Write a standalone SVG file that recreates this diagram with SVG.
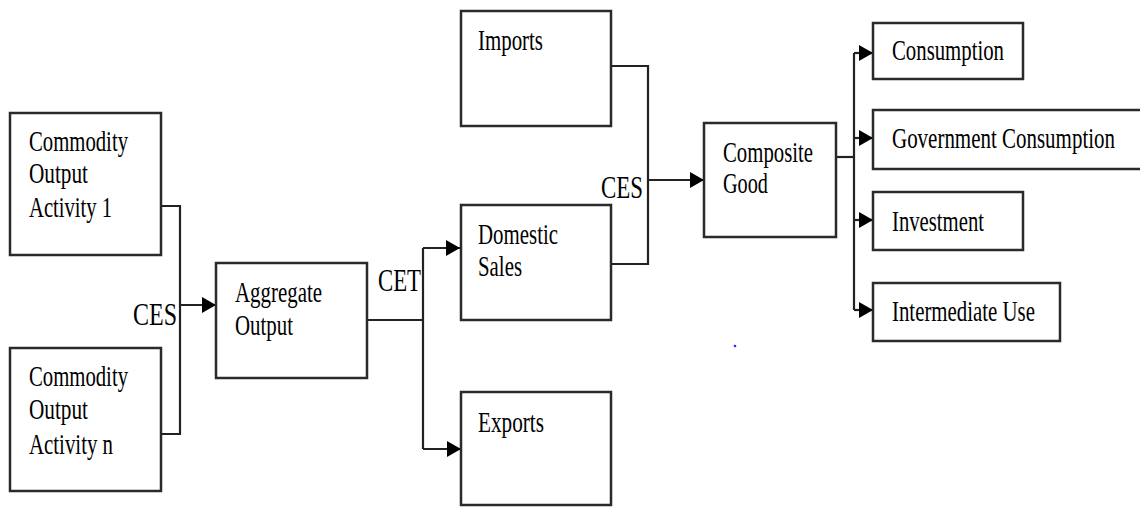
<svg xmlns="http://www.w3.org/2000/svg" width="1140" height="507" viewBox="0 0 1140 507">
<defs>
<marker id="arr" markerUnits="userSpaceOnUse" markerWidth="15" markerHeight="17" refX="14" refY="8" orient="auto">
<path d="M0,0 L14,8 L0,16 Z" fill="#000"/>
</marker>
<style>
.box{fill:#fff;stroke:#2a2a2a;stroke-width:2.5}
.t{font-family:"Liberation Serif","Times New Roman",serif;font-size:29px;fill:#000}
.lbl{font-family:"Liberation Serif","Times New Roman",serif;font-size:31px;fill:#000}
.c{fill:none;stroke:#222;stroke-width:2.2}
.a{marker-end:url(#arr)}
</style>
</defs>
<rect width="1140" height="507" fill="#fff"/>
<g id="connectors">
<path class="c" d="M161,206 H180 V434 H161"/>
<path class="c a" d="M180,305 H216"/>
<path class="c" d="M367,320 H423"/>
<path class="c" d="M423,248 V449"/>
<path class="c a" d="M423,248 H460"/>
<path class="c a" d="M423,449 H461"/>
<path class="c" d="M611,66 H648 V264 H611"/>
<path class="c a" d="M648,180 H704"/>
<path class="c" d="M836,157 H854"/>
<path class="c" d="M854,53 V310"/>
<path class="c a" d="M854,53 H873"/>
<path class="c a" d="M854,138 H873"/>
<path class="c a" d="M854,220 H873"/>
<path class="c a" d="M854,310 H873"/>
<text class="lbl" x="133" y="325" textLength="44" lengthAdjust="spacingAndGlyphs">CES</text>
<text class="lbl" x="378" y="291" textLength="43" lengthAdjust="spacingAndGlyphs">CET</text>
<text class="lbl" x="601" y="198" textLength="42" lengthAdjust="spacingAndGlyphs">CES</text>
</g>
<g id="activity1">
<rect class="box" x="10" y="113" width="151" height="142"/>
<text class="t" x="29" y="151" textLength="99" lengthAdjust="spacingAndGlyphs">Commodity</text>
<text class="t" x="29" y="183" textLength="59" lengthAdjust="spacingAndGlyphs">Output</text>
<text class="t" x="29" y="217" textLength="83" lengthAdjust="spacingAndGlyphs">Activity 1</text>
</g>
<g id="activityn">
<rect class="box" x="10" y="348" width="151" height="143"/>
<text class="t" x="29" y="386" textLength="99" lengthAdjust="spacingAndGlyphs">Commodity</text>
<text class="t" x="29" y="419" textLength="59" lengthAdjust="spacingAndGlyphs">Output</text>
<text class="t" x="29" y="454" textLength="84" lengthAdjust="spacingAndGlyphs">Activity n</text>
</g>
<g id="aggregate">
<rect class="box" x="216" y="263" width="151" height="115"/>
<text class="t" x="235" y="302" textLength="87" lengthAdjust="spacingAndGlyphs">Aggregate</text>
<text class="t" x="235" y="335" textLength="58" lengthAdjust="spacingAndGlyphs">Output</text>
</g>
<g id="imports">
<rect class="box" x="461" y="11" width="150" height="115"/>
<text class="t" x="478" y="50" textLength="65" lengthAdjust="spacingAndGlyphs">Imports</text>
</g>
<g id="domestic">
<rect class="box" x="461" y="205" width="150" height="115"/>
<text class="t" x="478" y="244" textLength="80" lengthAdjust="spacingAndGlyphs">Domestic</text>
<text class="t" x="478" y="276" textLength="44" lengthAdjust="spacingAndGlyphs">Sales</text>
</g>
<g id="exports">
<rect class="box" x="461" y="392" width="150" height="113"/>
<text class="t" x="478" y="432" textLength="66" lengthAdjust="spacingAndGlyphs">Exports</text>
</g>
<g id="composite">
<rect class="box" x="704" y="123" width="132" height="114"/>
<text class="t" x="723" y="162" textLength="90" lengthAdjust="spacingAndGlyphs">Composite</text>
<text class="t" x="723" y="193" textLength="45" lengthAdjust="spacingAndGlyphs">Good</text>
</g>
<g id="consumption">
<rect class="box" x="873" y="23" width="150" height="56"/>
<text class="t" x="892" y="60" textLength="112" lengthAdjust="spacingAndGlyphs">Consumption</text>
</g>
<g id="government">
<path class="box" d="M1142,110 H873 V169 H1142"/>
<text class="t" x="892" y="148" textLength="223" lengthAdjust="spacingAndGlyphs">Government Consumption</text>
</g>
<g id="investment">
<rect class="box" x="873" y="192" width="150" height="58"/>
<text class="t" x="892" y="231" textLength="92" lengthAdjust="spacingAndGlyphs">Investment</text>
</g>
<g id="intermediate">
<rect class="box" x="873" y="283" width="187" height="58"/>
<text class="t" x="892" y="321" textLength="143" lengthAdjust="spacingAndGlyphs">Intermediate Use</text>
</g>
<circle cx="735" cy="346" r="1.3" fill="#2a2aff"/>
</svg>
